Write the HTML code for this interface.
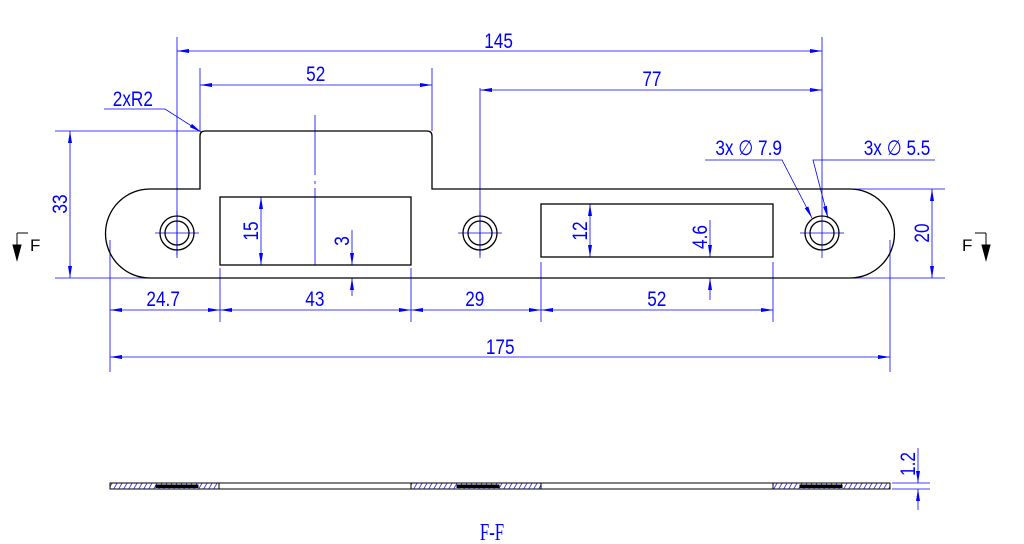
<!DOCTYPE html>
<html><head><style>html,body{margin:0;padding:0;background:#fff;}svg{display:block}</style></head>
<body>
<svg width="1024" height="544" viewBox="0 0 1024 544" xmlns="http://www.w3.org/2000/svg" font-family="Liberation Sans, sans-serif">
<defs>
<marker id="a" viewBox="0 0 12 4" refX="12" refY="2" markerWidth="12" markerHeight="4" markerUnits="userSpaceOnUse" orient="auto-start-reverse"><path d="M0,0L12,2L0,4z" fill="#00f"/></marker>
<pattern id="h" width="5" height="6" patternUnits="userSpaceOnUse" patternTransform="skewX(-30)"><line x1="1" y1="0" x2="1" y2="6" stroke="#00f" stroke-width="0.8"/></pattern>
</defs>
<g stroke="#00f" stroke-width="0.8" fill="none">
<line x1="177" y1="37" x2="177" y2="258"/>
<line x1="822" y1="37" x2="822" y2="258"/>
<line x1="200" y1="68" x2="200" y2="131"/>
<line x1="432" y1="68" x2="432" y2="131"/>
<line x1="480" y1="88" x2="480" y2="258"/>
<line x1="55" y1="131" x2="200" y2="131"/>
<line x1="55" y1="278" x2="150" y2="278"/>
<line x1="850" y1="189" x2="945" y2="189"/>
<line x1="850" y1="278" x2="945" y2="278"/>
<line x1="110" y1="240" x2="110" y2="372"/>
<line x1="890" y1="240" x2="890" y2="372"/>
<line x1="220" y1="268" x2="220" y2="322"/>
<line x1="411" y1="268" x2="411" y2="322"/>
<line x1="541" y1="262" x2="541" y2="322"/>
<line x1="773" y1="262" x2="773" y2="322"/>
<line x1="315" y1="115" x2="315" y2="185" stroke-dasharray="60 6 3 6"/>
<line x1="315" y1="188" x2="315" y2="265"/>
<line x1="177" y1="51" x2="822" y2="51" marker-start="url(#a)" marker-end="url(#a)"/>
<line x1="200" y1="85" x2="432" y2="85" marker-start="url(#a)" marker-end="url(#a)"/>
<line x1="480" y1="90" x2="822" y2="90" marker-start="url(#a)" marker-end="url(#a)"/>
<line x1="110" y1="357" x2="890" y2="357" marker-start="url(#a)" marker-end="url(#a)"/>
<line x1="110" y1="310" x2="220" y2="310" marker-start="url(#a)" marker-end="url(#a)"/>
<line x1="220" y1="310" x2="411" y2="310" marker-start="url(#a)" marker-end="url(#a)"/>
<line x1="411" y1="310" x2="541" y2="310" marker-start="url(#a)" marker-end="url(#a)"/>
<line x1="541" y1="310" x2="773" y2="310" marker-start="url(#a)" marker-end="url(#a)"/>
<line x1="70" y1="131" x2="70" y2="278" marker-start="url(#a)" marker-end="url(#a)"/>
<line x1="932" y1="189" x2="932" y2="278" marker-start="url(#a)" marker-end="url(#a)"/>
<line x1="261" y1="197" x2="261" y2="265" marker-start="url(#a)" marker-end="url(#a)"/>
<line x1="590" y1="204" x2="590" y2="257" marker-start="url(#a)" marker-end="url(#a)"/>
<line x1="352" y1="230" x2="352" y2="265" marker-end="url(#a)"/>
<line x1="352" y1="296" x2="352" y2="278" marker-end="url(#a)"/>
<line x1="710" y1="220" x2="710" y2="257" marker-end="url(#a)"/>
<line x1="710" y1="300" x2="710" y2="278" marker-end="url(#a)"/>
<polyline points="104,109 165,109 201,132" marker-end="url(#a)"/>
<polyline points="705,160 782,160 812,218" marker-end="url(#a)"/>
<polyline points="935,160 813,160 828,218" marker-end="url(#a)"/>
<line x1="155" y1="233" x2="199" y2="233"/><line x1="177" y1="211" x2="177" y2="255"/>
<line x1="458" y1="233" x2="502" y2="233"/><line x1="480" y1="211" x2="480" y2="255"/>
<line x1="800" y1="233" x2="844" y2="233"/>
<line x1="918" y1="448" x2="918" y2="483" marker-end="url(#a)"/>
<line x1="918" y1="510" x2="918" y2="489" marker-end="url(#a)"/>
<line x1="892" y1="483" x2="930" y2="483"/>
<line x1="892" y1="489" x2="930" y2="489"/>
</g>
<g fill="none" stroke="#000" stroke-width="1.3">
<path d="M150,189 L200,189 L200,136 Q200,131 205,131 L427,131 Q432,131 432,136 L432,189 L850,189 A44.5,44.5 0 0 1 850,278 L150,278 A44.5,44.5 0 0 1 150,189 Z"/>
<rect x="220" y="197" width="191" height="68"/>
<rect x="541" y="204" width="232" height="53"/>
<circle cx="177" cy="233" r="17"/><circle cx="177" cy="233" r="12"/>
<circle cx="480" cy="233" r="17"/><circle cx="480" cy="233" r="12"/>
<circle cx="822" cy="233" r="17"/><circle cx="822" cy="233" r="12"/>
</g>
<g stroke="#000" stroke-width="1">
<rect x="110" y="483" width="780" height="6" fill="#fff"/>
<rect x="110" y="483" width="109" height="6" fill="url(#h)"/>
<rect x="411" y="483" width="130" height="6" fill="url(#h)"/>
<rect x="773" y="483" width="117" height="6" fill="url(#h)"/>
<rect x="156" y="485" width="42" height="2.5" fill="#000"/>
<rect x="457" y="485" width="42" height="2.5" fill="#000"/>
<rect x="800" y="485" width="42" height="2.5" fill="#000"/>
</g>
<g stroke="#000" stroke-width="1" fill="#000">
<line x1="17" y1="233" x2="28" y2="233"/><line x1="17" y1="233" x2="17" y2="250"/><path d="M13,245L21,245L17,260z"/>
<line x1="975" y1="233" x2="986" y2="233"/><line x1="986" y1="233" x2="986" y2="250"/><path d="M982,245L990,245L986,260z"/>
</g>
<g font-size="17" fill="#000"><text x="30" y="251">F</text><text x="962" y="251">F</text></g>
<g fill="#00f" font-size="21" text-anchor="middle" transform="scale(0.82,1)">
<text x="608" y="48">145</text>
<text x="385" y="81">52</text>
<text x="795" y="86">77</text>
<text x="162" y="106">2xR2</text>
<text x="199" y="306">24.7</text>
<text x="384" y="306">43</text>
<text x="579" y="306">29</text>
<text x="801" y="306">52</text>
<text x="610" y="354">175</text>
<text x="913" y="155">3x ∅ 7.9</text>
<text x="1094" y="155">3x ∅ 5.5</text>
</g>
<g fill="#00f" font-size="21" text-anchor="middle">
<text transform="translate(67,204) rotate(-90) scale(0.82,1)">33</text>
<text transform="translate(929,233) rotate(-90) scale(0.82,1)">20</text>
<text transform="translate(258,231) rotate(-90) scale(0.82,1)">15</text>
<text transform="translate(349,241) rotate(-90) scale(0.82,1)">3</text>
<text transform="translate(587,231) rotate(-90) scale(0.82,1)">12</text>
<text transform="translate(707,237) rotate(-90) scale(0.82,1)">4.6</text>
<text transform="translate(915,464) rotate(-90) scale(0.82,1)">1.2</text>
</g>
<text x="492" y="540" fill="#00f" font-size="24" font-family="Liberation Serif, serif" text-anchor="middle" transform="translate(492,0) scale(0.7,1) translate(-492,0)">F-F</text>
</svg>
</body></html>
